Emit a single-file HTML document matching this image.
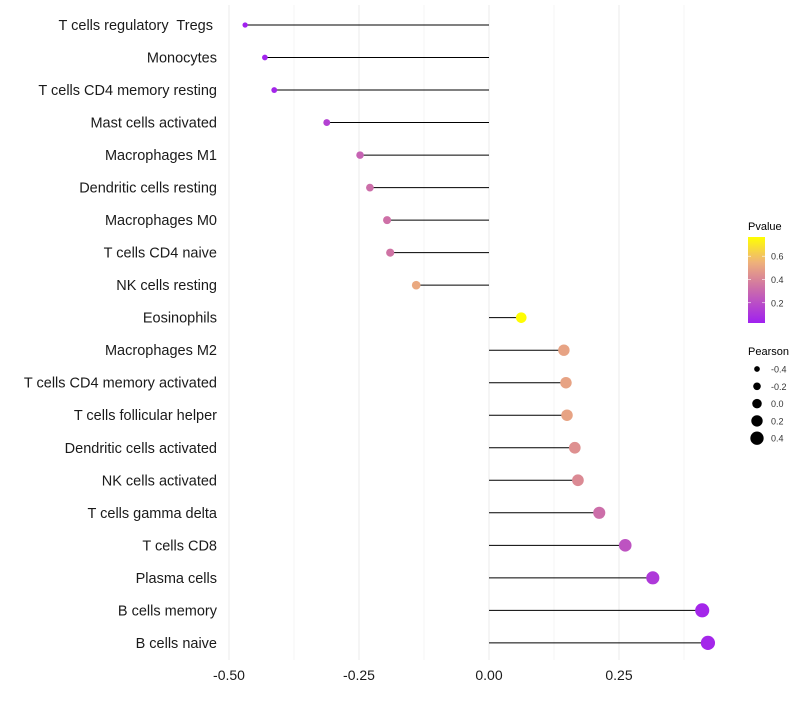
<!DOCTYPE html>
<html><head><meta charset="utf-8"><style>
body{margin:0;background:#fff;font-family:"Liberation Sans",sans-serif}
text{white-space:pre}
</style></head><body>
<svg id="chart" width="800" height="700" xmlns="http://www.w3.org/2000/svg"></svg>
<script>
const categories=["T cells regulatory  Tregs ","Monocytes","T cells CD4 memory resting","Mast cells activated","Macrophages M1","Dendritic cells resting","Macrophages M0","T cells CD4 naive","NK cells resting","Eosinophils","Macrophages M2","T cells CD4 memory activated","T cells follicular helper","Dendritic cells activated","NK cells activated","T cells gamma delta","T cells CD8","Plasma cells","B cells memory","B cells naive"];
const pearson=[-0.469,-0.431,-0.413,-0.312,-0.248,-0.229,-0.196,-0.190,-0.140,0.062,0.144,0.148,0.150,0.165,0.171,0.212,0.262,0.315,0.410,0.421];
const pvalues=[0.03,0.04,0.05,0.15,0.28,0.32,0.33,0.34,0.52,0.76,0.50,0.50,0.50,0.44,0.42,0.32,0.22,0.12,0.05,0.05];
const xTicks=[-0.5,-0.25,0,0.25];
const xTickLabels=["-0.50","-0.25","0.00","0.25"];
const pTicks=[0.2,0.4,0.6];
const sizeTicks=[-0.4,-0.2,0.0,0.2,0.4];
const sizeTickLabels=["-0.4","-0.2","0.0","0.2","0.4"];

const NS="http://www.w3.org/2000/svg";
const svg=document.getElementById('chart');
function mk(t,a,p){const e=document.createElementNS(NS,t);for(const k in a)e.setAttribute(k,a[k]);(p||svg).appendChild(e);return e;}
const x=v=>489+v*520;
const y=i=>25+i*32.52;
const pMin=0.026,pMax=0.765;
function lerp(a,b,t){return a.map((v,i)=>Math.round(v+(b[i]-v)*t));}
function col(p){let t=(p-pMin)/(pMax-pMin);t=Math.max(0,Math.min(1,t));
 const s=[[160,32,240],[210,120,160],[240,180,120],[255,255,0]],st=[0,0.45,0.72,1];
 for(let i=0;i<3;i++)if(t<=st[i+1]){const c=lerp(s[i],s[i+1],(t-st[i])/(st[i+1]-st[i]));return `rgb(${c})`;}
 return 'rgb(255,255,0)';}
const r=v=>5+v*5;
for(let v=-0.5;v<=0.38;v+=0.125){const g=mk('line',{x1:x(v),x2:x(v),y1:5,y2:660,stroke:'#ebebeb','stroke-width':Math.abs(v*4-Math.round(v*4))<0.01?1:0.5});
}
categories.forEach((c,i)=>{
 const t=mk('text',{x:217,y:y(i)+5,'text-anchor':'end','font-size':14.5,fill:'#1a1a1a'});t.textContent=c;
 
 const l=mk('line',{x1:x(0),x2:x(pearson[i]),y1:y(i),y2:y(i),stroke:'#000','stroke-width':1});
 
 const d=mk('circle',{cx:x(pearson[i]),cy:y(i),r:r(pearson[i]),fill:col(pvalues[i])});
 
});
xTicks.forEach((v,i)=>{const t=mk('text',{x:x(v),y:680,'text-anchor':'middle','font-size':14,fill:'#1a1a1a'});t.textContent=xTickLabels[i];
 });
const defs=mk('defs',{});const gr=mk('linearGradient',{id:'pg',x1:0,y1:1,x2:0,y2:0},defs);
for(let k=0;k<=10;k++){const p=pMin+(pMax-pMin)*k/10;mk('stop',{offset:k/10,'stop-color':col(p)},gr);}
const lt=mk('text',{x:748,y:230,'font-size':11,fill:'#000'});lt.textContent='Pvalue';

const bar=mk('rect',{x:748,y:237,width:17,height:86,fill:'url(#pg)'});

const py=p=>323-(p-pMin)/(pMax-pMin)*86;
pTicks.forEach(p=>{mk('line',{x1:748,x2:751,y1:py(p),y2:py(p),stroke:'#fff','stroke-width':0.6});mk('line',{x1:762,x2:765,y1:py(p),y2:py(p),stroke:'#fff','stroke-width':0.6});
 const t=mk('text',{x:771,y:py(p)+3.5,'font-size':9,fill:'#333'});t.textContent=p.toFixed(1);
 });
const st=mk('text',{x:748,y:355,'font-size':11,fill:'#000'});st.textContent='Pearson';

sizeTicks.forEach((v,i)=>{const cy=369+i*17.3;const c=mk('circle',{cx:757,cy:cy,r:r(v)*0.95,fill:'#000'});
 
 const t=mk('text',{x:771,y:cy+3.5,'font-size':9,fill:'#333'});t.textContent=sizeTickLabels[i];
 });
</script>
</body></html>
